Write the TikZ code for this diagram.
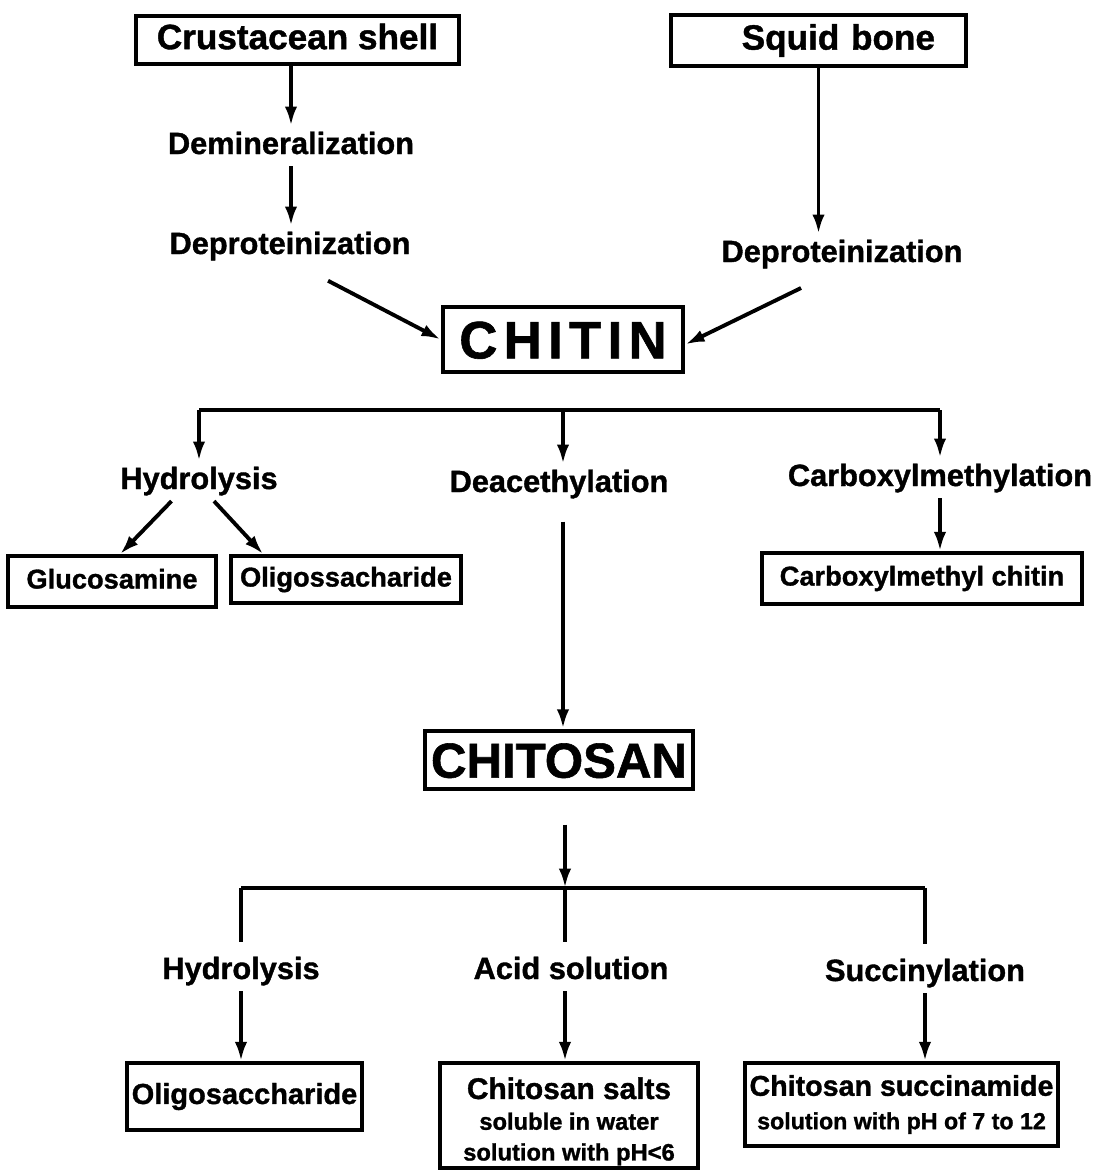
\documentclass[tikz,border=0pt]{standalone}
\usepackage{fontspec}
\setmainfont{Liberation Sans}[BoldFeatures={FakeBold=1.2}]
\usetikzlibrary{arrows.meta}

\begin{document}
\begin{tikzpicture}[x=0.02cm,y=-0.02cm,
  one/.style 2 args={text height=#1, text depth=#2},
  lbl/.style={font=\bfseries\fontsize{17.5}{20}\selectfont, inner sep=3pt, one={12.8pt}{3.7pt}},
  box/.style={draw, line width=2pt, inner sep=0pt, align=center, font=\bfseries\fontsize{15.5}{18}\selectfont},
  small/.style={box, one={11.3pt}{3.3pt}},
  head/.style={box, one={14.6pt}{4.2pt}, font=\bfseries\fontsize{20}{22}\selectfont},
  big/.style={box, line width=2.6pt},
  arr/.style={-{Latex[length=11pt,width=7pt]}, line width=2.2pt},
  ln/.style={line width=2.2pt}]
  \useasboundingbox (0,0) rectangle (1102,1171);

  \node[head, minimum width=6.46cm, minimum height=0.96cm] (crust) at (297.5,40) {Crustacean shell};
  \node[head, text width=4.66cm, inner xsep=0.62cm, minimum height=1.02cm, align=right] (squid) at (818.5,40.5) {Squid bone};
  \node[lbl] (demin) at (291,146) {Demineralization};
  \node[lbl] (deprotA) at (290,246) {Deproteinization};
  \node[lbl] (deprotB) at (842,254) {Deproteinization};
  \node[big, one={21.5pt}{0pt}, minimum width=4.8cm, minimum height=1.3cm, font=\bfseries\fontsize{30}{32}\selectfont\addfontfeature{LetterSpace=12}] (chitin) at (563,339.5) {CHITIN};

  \node[lbl] (hydroA) at (199,481) {Hydrolysis};
  \node[lbl] (deac) at (559,484) {Deacethylation};
  \node[lbl] (carbox) at (940,478) {Carboxylmethylation};
  \node[small, minimum width=4.16cm, minimum height=1.02cm] (gluc) at (112,581.5) {Glucosamine};
  \node[small, minimum width=4.6cm, minimum height=0.94cm] (oligoA) at (346,579.5) {Oligossacharide};
  \node[small, minimum width=6.4cm, minimum height=1.02cm] (cmchitin) at (922,578.5) {Carboxylmethyl chitin};

  \node[big, one={20.1pt}{0pt}, minimum width=5.36cm, minimum height=1.16cm, font=\bfseries\fontsize{28}{30}\selectfont] (chitosan) at (559,760) {CHITOSAN};

  \node[lbl] (hydroB) at (241,971) {Hydrolysis};
  \node[lbl] (acid) at (571,971) {Acid solution};
  \node[lbl] (succl) at (925,973) {Succinylation};
  \node[box, one={12pt}{3.5pt}, minimum width=4.7cm, minimum height=1.34cm, font=\bfseries\fontsize{16.5}{19}\selectfont] (oligoB) at (244.5,1096.5) {Oligosaccharide};
  \node[box, minimum width=5.16cm, minimum height=2.1cm, font=\bfseries\fontsize{17}{17.5}\selectfont] (salts) at (569,1115.5)
    {\rule{0pt}{19pt}Chitosan salts\\{\fontsize{13.5}{17}\selectfont soluble in water}\\{\fontsize{13.5}{17}\selectfont solution with pH<6}};
  \node[box, minimum width=6.26cm, minimum height=1.66cm, font=\bfseries\fontsize{16.3}{19}\selectfont] (succ) at (901.5,1104.5)
    {Chitosan succinamide\\{\fontsize{13.2}{17}\selectfont solution with pH of 7 to 12}};

  \coordinate (busA) at (563,410);
  \coordinate (busB) at (565,888);

  \draw[arr] (crust.south -| demin) -- (demin.north);
  \draw[arr] (demin.south) -- (demin.south |- deprotA.north);
  \draw[arr, shorten <=18pt] ([xshift=0.2cm]deprotA.south) -- (chitin.west);
  \draw[arr] (squid.south) -- (squid.south |- deprotB.north);
  \draw[arr, shorten <=18pt] ([xshift=-0.25cm]deprotB.south) -- ([yshift=-0.1cm]chitin.east);

  \draw[ln] (hydroA |- busA) -- (carbox |- busA);
  \draw[arr] (hydroA |- busA) -- (hydroA.north);
  \draw[arr] (busA) -- (busA |- deac.north);
  \draw[arr] (carbox |- busA) -- (carbox.north);
  \draw[arr] ([xshift=-0.55cm]hydroA.south) -- ([xshift=0.16cm]gluc.north);
  \draw[arr] ([xshift=0.3cm]hydroA.south) -- ([xshift=0.68cm]oligoA.north west);
  \draw[arr] (carbox.south) -- (carbox.south |- cmchitin.north);
  \draw[arr, shorten <=10pt] (deac.south -| busA) -- (chitosan.north -| busA);

  \draw[arr, shorten <=19pt] (chitosan.south -| busB) -- (busB);
  \draw[ln] (hydroB |- busB) -- (succl |- busB);
  \draw[ln, shorten >=5pt] (hydroB |- busB) -- (hydroB.north);
  \draw[ln, shorten >=5pt] (busB) -- (busB |- acid.north);
  \draw[ln, shorten >=5pt] (succl |- busB) -- (succl.north);
  \draw[arr] (hydroB.south) -- (hydroB.south |- oligoB.north);
  \draw[arr] (acid.south -| busB) -- (salts.north -| busB);
  \draw[arr] (succl.south) -- (succl.south |- succ.north);
\end{tikzpicture}
\end{document}
